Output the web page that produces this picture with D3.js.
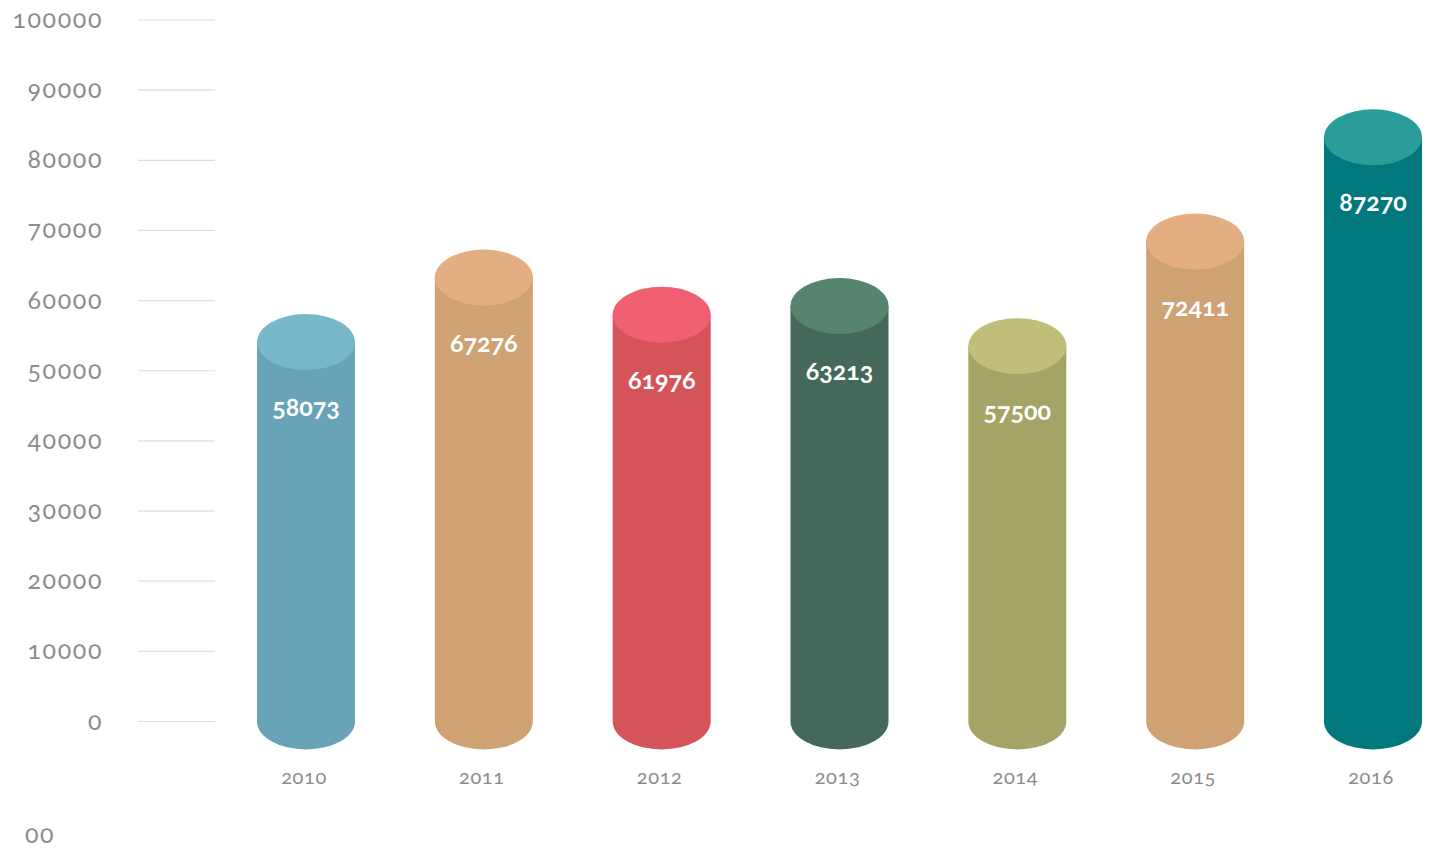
<!DOCTYPE html>
<html>
<head>
<meta charset="utf-8">
<script src="https://cdn.jsdelivr.net/npm/d3@7"></script>
<style>
  html, body { margin: 0; padding: 0; background: #fff; }
  svg text { font-family: Lato, "Open Sans", "Noto Sans", sans-serif; font-variant-numeric: oldstyle-nums; font-feature-settings: "onum" 1; }
</style>
</head>
<body>
<svg id="chart" width="1431" height="848"></svg>
<script>
// Yearly totals
const years = ["2010", "2011", "2012", "2013", "2014", "2015", "2016"];
const values = [58073, 67276, 61976, 63213, 57500, 72411, 87270];
const bodyColors = ["#68a3b7", "#cfa273", "#d55459", "#44685a", "#a3a465", "#cfa273", "#00787c"];
const capColors = ["#76b7c9", "#e4ae83", "#f06072", "#57846f", "#bfbe7a", "#e4ae83", "#2a9d9b"];
const yTicks = [0, 10000, 20000, 30000, 40000, 50000, 60000, 70000, 80000, 90000, 100000];

const svg = d3.select("#chart");

const y = d3.scaleLinear().domain([0, 100000]).range([721.5, 20]);
const x = d3.scalePoint().domain(years).range([306, 1373]);

const rx = 49, ry = 28;

// Grid stubs and value ticks on the left
const grid = svg.append("g");
grid.selectAll("line").data(yTicks).join("line")
  .attr("x1", 138).attr("x2", 215)
  .attr("y1", d => y(d)).attr("y2", d => y(d))
  .attr("stroke", "#dedede").attr("stroke-width", 1.2);
grid.selectAll("text").data(yTicks).join("text")
  .attr("x", 103).attr("y", d => y(d) + 8)
  .attr("text-anchor", "end")
  .attr("font-size", 25).attr("letter-spacing", 1.6).attr("fill", "#8c8c8c")
  .text(d => d);

svg.append("text").attr("x", 25).attr("y", 843)
  .attr("font-size", 25).attr("letter-spacing", 1.6).attr("fill", "#8c8c8c").text("00");

const data = years.map((yr, i) => ({ yr, v: values[i], body: bodyColors[i], cap: capColors[i] }));

const bars = svg.append("g").selectAll("g").data(data).join("g");

// Cylinder body: side walls from the cap centre down to a rounded base
bars.append("path")
  .attr("fill", d => d.body)
  .attr("d", d => {
    const cx = x(d.yr), top = y(d.v) + ry, base = y(0);
    return `M${cx - rx},${top} L${cx - rx},${base} A${rx},${ry} 0 0 0 ${cx + rx},${base} L${cx + rx},${top} Z`;
  });

// Top cap
bars.append("ellipse")
  .attr("cx", d => x(d.yr)).attr("cy", d => y(d.v) + ry)
  .attr("rx", rx).attr("ry", ry)
  .attr("fill", d => d.cap);

// Value labels inside the cylinder
bars.append("text")
  .attr("x", d => x(d.yr)).attr("y", d => y(d.v) + 102)
  .attr("text-anchor", "middle")
  .attr("font-size", 25).attr("font-weight", "bold").attr("fill", "#fff")
  .text(d => d.v);

// Year labels
bars.append("text")
  .attr("x", d => x(d.yr) - 2).attr("y", 784)
  .attr("text-anchor", "middle")
  .attr("font-size", 20).attr("letter-spacing", 0.6).attr("fill", "#8c8c8c")
  .text(d => d.yr);
</script>
</body>
</html>
